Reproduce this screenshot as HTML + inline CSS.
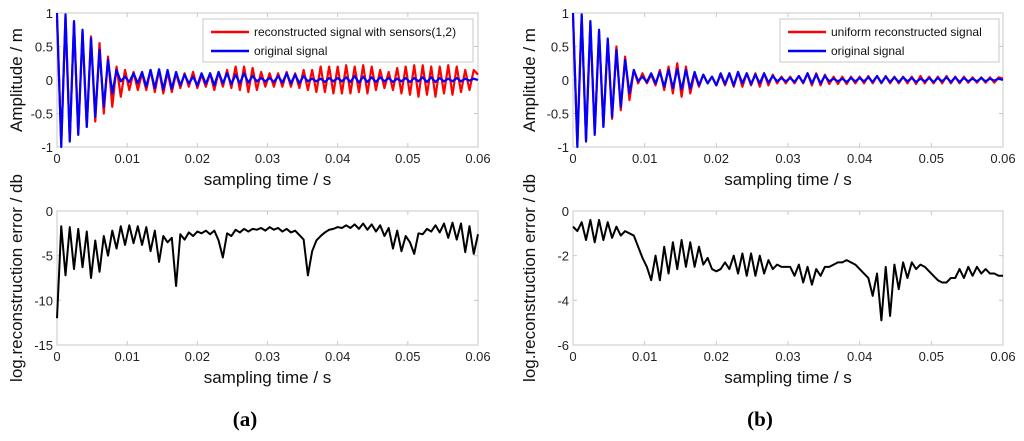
<!DOCTYPE html>
<html><head><meta charset="utf-8"><style>
html,body{margin:0;padding:0;background:#fff;}
svg{display:block;font-family:"Liberation Sans",Arial,sans-serif;}
</style></head><body>
<svg id="fig" width="1024" height="441" viewBox="0 0 1024 441" xmlns="http://www.w3.org/2000/svg"></svg>
<script>
// ---- data (extrema samples, uniformly spaced over 0..0.06 s) ----
const xTicks = [0, 0.01, 0.02, 0.03, 0.04, 0.05, 0.06];
const xTickLabels = ["0","0.01","0.02","0.03","0.04","0.05","0.06"];
const ampTicks = [-1, -0.5, 0, 0.5, 1];
const ampTickLabels = ["-1","-0.5","0","0.5","1"];
const errATicks = [-15, -10, -5, 0];
const errATickLabels = ["-15","-10","-5","0"];
const errBTicks = [-6, -4, -2, 0];
const errBTickLabels = ["-6","-4","-2","0"];

const originalA = [1.0,-1.0,0.98,-0.92,0.88,-0.82,0.75,-0.7,0.62,-0.55,0.45,-0.4,0.3,-0.2,0.15,
-0.02,0.05,-0.03,0.1,-0.05,
0.12,-0.1,0.15,-0.12,0.16,-0.14,0.15,-0.13,0.12,-0.08,
0.08,-0.05,0.05,-0.08,0.1,-0.06,0.1,-0.08,0.12,-0.05,0.1,-0.06,0.08,-0.05,0.1,-0.04,0.06,-0.02,0.03,-0.02,
0.03,-0.03,0.06,-0.04,0.1,-0.05,0.08,-0.05,0.06,-0.02,0.02,-0.02,0.02,-0.03,0.03,-0.02,0.03,-0.02,0.04,-0.03,0.06,-0.04,0.05,-0.03,0.04,
-0.03,0.04,-0.02,0.03,-0.03,0.02,-0.02,0.03,-0.03,0.03,-0.02,0.04,-0.03,0.04,-0.03,0.03,-0.02,0.02,-0.02,0.03,-0.02,0.02,-0.01,0.02,0];
const reconA = [0.9,-0.95,0.95,-0.9,0.85,-0.8,0.72,-0.7,0.65,-0.62,0.55,-0.5,0.35,-0.4,0.2,
-0.25,0.15,-0.15,0.12,-0.15,
0.1,-0.15,0.15,-0.18,0.15,-0.2,0.12,-0.18,0.1,-0.12,
0.1,-0.1,0.12,-0.12,0.08,-0.1,0.1,-0.15,0.12,-0.1,0.15,-0.12,0.2,-0.15,0.2,-0.18,0.18,-0.15,0.12,-0.1,
0.1,-0.1,0.1,-0.1,0.12,-0.1,0.1,-0.12,0.15,-0.15,0.15,-0.18,0.2,-0.18,0.2,-0.2,0.2,-0.2,0.22,-0.2,0.2,-0.18,0.22,-0.2,0.2,
-0.15,0.15,-0.12,0.12,-0.15,0.18,-0.2,0.2,-0.22,0.22,-0.25,0.22,-0.22,0.2,-0.25,0.2,-0.2,0.22,-0.22,0.2,-0.18,0.15,-0.15,0.15,0.08];
const originalB = originalA.slice();
const reconB = [0.95,-0.95,0.95,-0.9,0.85,-0.8,0.72,-0.7,0.6,-0.58,0.5,-0.45,0.35,-0.3,0.15,
-0.05,0.1,-0.05,0.08,-0.08,
0.15,-0.15,0.2,-0.2,0.25,-0.25,0.2,-0.2,0.1,-0.1,
0.08,-0.05,0.05,-0.08,0.08,-0.08,0.1,-0.1,0.12,-0.1,0.1,-0.08,0.1,-0.1,0.1,-0.08,0.08,-0.05,0.05,-0.05,
0.05,-0.05,0.06,-0.05,0.1,-0.08,0.1,-0.08,0.08,-0.06,0.05,-0.06,0.05,-0.06,0.05,-0.05,0.05,-0.05,0.06,-0.05,0.06,-0.05,0.06,-0.05,0.05,
-0.05,0.05,-0.05,0.05,-0.06,0.06,-0.05,0.05,-0.05,0.05,-0.05,0.06,-0.05,0.05,-0.05,0.05,-0.04,0.04,-0.04,0.04,-0.04,0.04,-0.04,0.04,0.02];
const errorA = [-12,-1.7,-7.2,-1.8,-6.5,-2.0,-6.3,-2.3,-7.5,-3.3,-6.8,-2.8,-5,-2.2,-4.2,
-1.7,-3.8,-1.6,-3.6,-1.7,-3.8,-1.8,-4.5,-2.2,-5.7,-2.8,-3.5,-3.0,-8.4,-2.6,
-3.2,-2.4,-2.8,-2.3,-2.5,-2.2,-2.6,-2.2,-3.3,-5.2,-2.5,-2.8,-2.1,-2.4,-2.0,-2.3,-2.0,-2.1,-1.9,-2.2,
-1.8,-2.1,-1.9,-2.3,-2.0,-2.4,-2.2,-2.7,-3.2,-7.2,-4.5,-3.3,-2.8,-2.4,-2.1,-2.0,-1.8,-1.9,-1.6,-1.9,-1.5,-2.0,-1.4,-2.1,-1.5,
-2.3,-1.6,-2.8,-1.9,-4.2,-2.2,-4.5,-2.8,-3.5,-4.8,-2.5,-2.6,-2.0,-2.3,-1.6,-2.4,-1.4,-3.0,-1.3,-3.2,-1.4,-4.6,-1.7,-4.8,-2.6];
const errorB = [-0.7,-0.9,-0.5,-1.3,-0.4,-1.4,-0.4,-1.3,-0.5,-1.2,-0.7,-1.1,-0.9,-1.0,-1.1,
-1.6,-2.1,-2.5,-3.1,-2.0,-3.1,-1.6,-2.8,-1.4,-2.6,-1.3,-2.5,-1.4,-2.5,-1.6,
-2.4,-2.1,-2.6,-2.7,-2.6,-2.3,-2.6,-2.0,-2.8,-1.9,-2.9,-1.9,-2.9,-2.0,-2.8,-2.2,-2.6,-2.4,-2.5,-2.5,
-2.5,-2.9,-2.4,-3.2,-2.5,-3.3,-2.6,-2.9,-2.5,-2.5,-2.4,-2.3,-2.3,-2.2,-2.3,-2.4,-2.6,-2.8,-3.0,-3.8,-2.8,-4.9,-2.5,-4.7,-2.4,
-3.5,-2.3,-3.0,-2.3,-2.6,-2.4,-2.5,-2.7,-2.9,-3.1,-3.2,-3.2,-3.0,-3.0,-2.6,-3.0,-2.5,-2.9,-2.5,-2.8,-2.6,-2.8,-2.8,-2.9,-2.9];

const NS = "http://www.w3.org/2000/svg";
const svg = document.getElementById("fig");
function mk(tag, attrs, parent){ const e=document.createElementNS(NS,tag); for(const k in attrs) e.setAttribute(k,attrs[k]); (parent||svg).appendChild(e); return e; }

function panel(cfg){
  const g = mk("g",{});
  
  
  const {x0,x1,y0,y1,ymin,ymax} = cfg;
  const sx = v => x0 + (v-0)/(0.06-0)*(x1-x0);
  const sy = v => y1 - (v-ymin)/(ymax-ymin)*(y1-y0);
  const frame = mk("rect",{x:x0,y:y0,width:x1-x0,height:y1-y0,fill:"#fff",stroke:"#c8c8c8","stroke-width":1},g);
  
  
  xTicks.forEach((t,i)=>{
    const X=sx(t);
    mk("line",{x1:X,y1:y1,x2:X,y2:y1-4,stroke:"#c8c8c8"},g);
    mk("line",{x1:X,y1:y0,x2:X,y2:y0+4,stroke:"#c8c8c8"},g);
    const tx=mk("text",{x:X,y:y1+16,"font-size":13,"text-anchor":"middle",fill:"#222"},g);
    tx.textContent=xTickLabels[i];
    
    
  });
  cfg.yt.forEach((t,i)=>{
    const Y=sy(t);
    mk("line",{x1:x0,y1:Y,x2:x0+4,y2:Y,stroke:"#c8c8c8"},g);
    mk("line",{x1:x1,y1:Y,x2:x1-4,y2:Y,stroke:"#c8c8c8"},g);
    const tx=mk("text",{x:x0-4,y:Y+5,"font-size":13,"text-anchor":"end",fill:"#222"},g);
    tx.textContent=cfg.ytl[i];
    
    
  });
  cfg.series.forEach(s=>{
    const n=s.data.length;
    const pts=s.data.map((v,i)=>sx(i*0.06/(n-1)).toFixed(2)+","+sy(v).toFixed(2)).join(" ");
    const pl=mk("polyline",{points:pts,fill:"none",stroke:s.color,"stroke-width":s.w,"stroke-linejoin":"round"},g);
    
    
  });
  const xl=mk("text",{x:(x0+x1)/2,y:y1+38,"font-size":17,"text-anchor":"middle",fill:"#111"},g);
  xl.textContent="sampling time / s";
  
  
  const yx=cfg.ylx, yy=(y0+y1)/2;
  const yl=mk("text",{x:yx,y:yy,"font-size":17,"text-anchor":"middle",fill:"#111",transform:`rotate(-90 ${yx} ${yy})`},g);
  yl.textContent=cfg.ylabel;
  
  
  if(cfg.legend){
    const L=cfg.legend;
    const lg=mk("g",{},g);
    
    
    mk("rect",{x:L.x,y:L.y,width:L.w,height:43,fill:"#fff",stroke:"#c8c8c8"},lg);
    L.items.forEach((it,i)=>{
      const yy2=L.y+13+i*19;
      mk("line",{x1:L.x+8,y1:yy2,x2:L.x+46,y2:yy2,stroke:it.c,"stroke-width":2.5},lg);
      const t=mk("text",{x:L.x+51,y:yy2+4,"font-size":12,fill:"#111"},lg);
      t.textContent=it.t;
      
      
    });
  }
}

panel({name:"panel-a-signal",x0:57,x1:478,y0:13,y1:147,ymin:-1,ymax:1,yt:ampTicks,ytl:ampTickLabels,ylx:22,ylabel:"Amplitude / m",
  series:[{name:"reconstructed-signal-a",data:reconA,color:"#ff0000",w:2.2},{name:"original-signal-a",data:originalA,color:"#0000ff",w:2.2}],
  legend:{x:203,y:19,w:270,items:[{c:"#ff0000",t:"reconstructed signal with sensors(1,2)"},{c:"#0000ff",t:"original signal"}]}});
panel({name:"panel-a-error",x0:57,x1:478,y0:211,y1:345,ymin:-15,ymax:0,yt:errATicks,ytl:errATickLabels,ylx:22,ylabel:"log.reconstruction error / db",
  series:[{name:"error-a",data:errorA,color:"#000",w:2}]});
panel({name:"panel-b-signal",x0:573,x1:1003,y0:13,y1:147,ymin:-1,ymax:1,yt:ampTicks,ytl:ampTickLabels,ylx:535,ylabel:"Amplitude / m",
  series:[{name:"reconstructed-signal-b",data:reconB,color:"#ff0000",w:2.2},{name:"original-signal-b",data:originalB,color:"#0000ff",w:2.2}],
  legend:{x:780,y:19,w:219,items:[{c:"#ff0000",t:"uniform reconstructed signal"},{c:"#0000ff",t:"original signal"}]}});
panel({name:"panel-b-error",x0:573,x1:1003,y0:211,y1:345,ymin:-6,ymax:0,yt:errBTicks,ytl:errBTickLabels,ylx:535,ylabel:"log.reconstruction error / db",
  series:[{name:"error-b",data:errorB,color:"#000",w:2}]});

[["(a)",245,"caption-a"],["(b)",760,"caption-b"]].forEach(c=>{
  const t=mk("text",{x:c[1],y:426,"font-size":21,"font-weight":"bold","text-anchor":"middle","font-family":"Liberation Serif, serif",fill:"#000"});
  t.textContent=c[0];
  
  
});
</script>
</body></html>
